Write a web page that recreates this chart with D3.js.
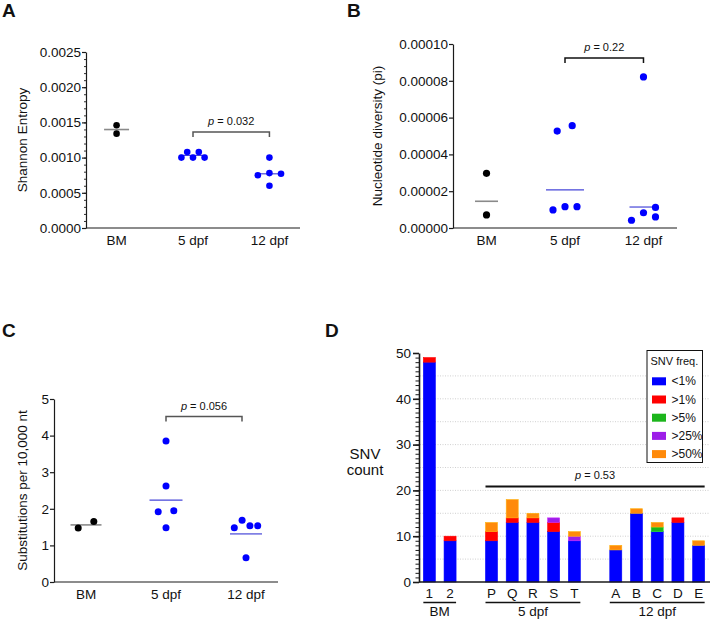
<!DOCTYPE html>
<html><head><meta charset="utf-8">
<script src="https://cdn.jsdelivr.net/npm/d3@7"></script>
<style>body{margin:0;background:#fff}svg{display:block;font-family:"Liberation Sans",Arial,sans-serif}</style>
</head><body><svg id="c" width="710" height="620"></svg>
<script>
// ---------- data ----------
const groups = ["BM", "5 dpf", "12 dpf"];

// Panel A: Shannon entropy
const shannonBM = [0.00146, 0.00134];
const shannon5dpf = [0.00100, 0.00108, 0.00100, 0.00108, 0.00100];
const shannon12dpf = [0.00075, 0.00100, 0.00078, 0.00060, 0.00077];
const shannonSwarm = [[0, 0], [-2, -1, 0, 1, 2], [-2, 0, 0, 0, 2]];
const shannonTicks = [0, 0.0005, 0.0010, 0.0015, 0.0020, 0.0025];
const shannonP = "0.032";

// Panel B: nucleotide diversity
const piBM = [0.0000297, 0.0000071];
const pi5dpf = [0.0000527, 0.0000556, 0.0000098, 0.0000116, 0.0000116];
const pi12dpf = [0.0000821, 0.0000042, 0.0000083, 0.0000060, 0.0000112];
const piSwarm = [[0, 0], [-1.3, 1.2, -2, 0, 2], [0, -2, 0, 2, 2]];
const piTicks = [0, 0.00002, 0.00004, 0.00006, 0.00008, 0.00010];
const piP = "0.22";

// Panel C: substitutions per 10,000 nt
const subsBM = [1.475, 1.65];
const subs5dpf = [3.85, 2.62, 1.92, 1.95, 1.48];
const subs12dpf = [1.48, 1.69, 1.54, 1.54, 0.66];
const subsSwarm = [[-1, 1], [0, 0, -1, 1, 0], [-1.5, -0.5, 0.5, 1.5, 0]];
const subsTicks = [0, 1, 2, 3, 4, 5];
const subsP = "0.056";

// Panel D: SNV counts
const snvSamples = ["1", "2", "P", "Q", "R", "S", "T", "A", "B", "C", "D", "E"];
const snvSampleGroup = ["BM", "BM", "5 dpf", "5 dpf", "5 dpf", "5 dpf", "5 dpf", "12 dpf", "12 dpf", "12 dpf", "12 dpf", "12 dpf"];
const freqClasses = ["<1%", ">1%", ">5%", ">25%", ">50%"];
const snvLt1 = [48, 9, 9, 13, 13, 11, 9, 7, 15, 11, 13, 8];
const snvGt1 = [1, 1, 2, 1, 1, 2, 0, 0, 0, 0, 1, 0];
const snvGt5 = [0, 0, 0, 0, 0, 0, 0, 0, 0, 1, 0, 0];
const snvGt25 = [0, 0, 0, 0, 0, 1, 1, 0, 0, 0, 0, 0];
const snvGt50 = [0, 0, 2, 4, 1, 0, 1, 1, 1, 1, 0, 1];
const snvTicks = [0, 10, 20, 30, 40, 50];
const snvP = "0.53";
const freqColors = ["#0000ff", "#ff0000", "#1cb51c", "#9d1ee8", "#ff8a0a"];

// ---------- drawing ----------
const svg = d3.select("#c");
const FONT = '"Liberation Sans", Arial, sans-serif';

function styleAxis(sel, fs) {
  sel.attr("font-family", FONT).attr("font-size", fs);
  sel.selectAll("path,line").attr("stroke", "#1a1a1a").attr("stroke-width", 1.2);
  sel.selectAll("text").attr("fill", "#111");
}

function pText(g, x, y, val, fs) {
  const t = g.append("text").attr("x", x).attr("y", y).attr("text-anchor", "middle")
    .attr("font-size", fs).attr("fill", "#111");
  t.append("tspan").attr("font-style", "italic").text("p");
  t.append("tspan").text(" = " + val);
}

function scatter(o) {
  const g = svg.append("g");
  const x = d3.scalePoint().domain(groups).range([o.x0, o.x1]).padding(o.pad);
  const y = d3.scaleLinear().domain([0, o.ticks[o.ticks.length - 1]]).range([o.y0, o.y1]);
  if (o.minor) {
    g.append("g").attr("transform", `translate(${o.x0},0)`)
      .call(d3.axisLeft(y).tickValues(o.minor).tickSize(2).tickSizeOuter(0).tickFormat(""))
      .call(s => { styleAxis(s, 13.5); s.select(".domain").remove(); s.selectAll("line").attr("stroke-width", 0.9); });
  }
  g.append("g").attr("transform", `translate(${o.x0},0)`)
    .call(d3.axisLeft(y).tickValues(o.ticks).tickSize(4).tickSizeOuter(0).tickPadding(1).tickFormat(d3.format(o.fmt)))
    .call(s => styleAxis(s, 13.5));
  g.append("line").attr("x1", o.x0).attr("x2", o.x1).attr("y1", o.y0).attr("y2", o.y0)
    .attr("stroke", "#1a1a1a").attr("stroke-width", 1.2);
  groups.forEach(k => g.append("text").attr("x", x(k)).attr("y", o.y0 + 17).attr("text-anchor", "middle")
    .attr("font-size", 13.5).attr("fill", "#111").text(k));
  g.append("text").attr("transform", `translate(${o.titleX},${(o.y0 + o.y1) / 2}) rotate(-90)`)
    .attr("text-anchor", "middle").attr("font-size", 13.5).attr("fill", "#111").text(o.title);
  o.series.forEach((vals, i) => {
    const cx = x(groups[i]);
    const gm = Math.exp(d3.mean(vals, Math.log));
    const hw = o.hw[i];
    g.append("line").attr("x1", cx - hw).attr("x2", cx + hw).attr("y1", y(gm)).attr("y2", y(gm))
      .attr("stroke", i === 0 ? "#8a8a8a" : "#4646d8").attr("stroke-width", i === 0 ? 1.6 : 1.2);
    g.selectAll(null).data(vals).enter().append("circle")
      .attr("cx", (v, j) => cx + o.swarm[i][j] * o.step).attr("cy", v => y(v)).attr("r", o.r)
      .attr("fill", i === 0 ? "#000" : "#0000ff");
  });
  const bx1 = x(groups[1]), bx2 = x(groups[2]) - (o.bShift || 0);
  g.append("path").attr("d", `M${bx1},${o.by + 5}V${o.by}H${bx2}V${o.by + 5}`)
    .attr("fill", "none").attr("stroke", o.bColor).attr("stroke-width", 1.5);
  pText(g, (bx1 + bx2) / 2, o.by - 7, o.p, 11);
}

// Panel A
scatter({
  x0: 86, x1: 300, pad: 0.4, y0: 228, y1: 52, ticks: shannonTicks, fmt: ".4f",
  minor: d3.range(0, 26).map(i => i * 0.0001),
  series: [shannonBM, shannon5dpf, shannon12dpf], swarm: shannonSwarm, step: 5.8, r: 3.3,
  hw: [12.5, 13, 12.5], title: "Shannon Entropy", titleX: 27, by: 132, bColor: "#555", p: shannonP
});
// Panel B
scatter({
  x0: 453, x1: 677, pad: 0.427, y0: 228, y1: 44, ticks: piTicks, fmt: ".5f",
  series: [piBM, pi5dpf, pi12dpf], swarm: piSwarm, step: 6, r: 3.6,
  hw: [11.5, 19, 14], title: "Nucleotide diversity (pi)", titleX: 382, by: 58, bColor: "#111", p: piP
});
// Panel C
scatter({
  x0: 54, x1: 278, pad: 0.4, y0: 582, y1: 399, ticks: subsTicks, fmt: "d",
  series: [subsBM, subs5dpf, subs12dpf], swarm: subsSwarm, step: 7.8, r: 3.5,
  hw: [15.5, 16.5, 16], title: "Substitutions per 10,000 nt", titleX: 27, by: 416.5, bColor: "#555", p: subsP, bShift: 4
});

// Panel D
(function () {
  const g = svg.append("g");
  const x0 = 419, x1 = 709, y0 = 582, y1 = 353;
  const groupNames = [...new Set(snvSampleGroup)];
  const domain = [];
  groupNames.forEach((gn, gi) => {
    if (gi > 0) domain.push("_gap" + gi);
    snvSamples.forEach((s, i) => { if (snvSampleGroup[i] === gn) domain.push(s); });
  });
  const x = d3.scaleBand().domain(domain).range([x0, x1]).paddingInner(0.42).paddingOuter(0.21);
  const y = d3.scaleLinear().domain([0, 50]).range([y0, y1]);

  // gridlines
  g.selectAll(null).data(d3.range(5, 50, 5)).enter().append("line")
    .attr("x1", x0 + 1).attr("x2", 710).attr("y1", d => y(d)).attr("y2", d => y(d))
    .attr("stroke", "#c4c4c4").attr("stroke-width", 0.8).attr("stroke-dasharray", "1,1.5");

  const rows = snvSamples.map((s, i) => ({
    sample: s, "<1%": snvLt1[i], ">1%": snvGt1[i], ">5%": snvGt5[i], ">25%": snvGt25[i], ">50%": snvGt50[i]
  }));
  const stacked = d3.stack().keys(freqClasses)(rows);
  stacked.forEach((layer, li) => {
    g.selectAll(null).data(layer.filter(d => d[1] > d[0])).enter().append("rect")
      .attr("x", d => x(d.data.sample)).attr("width", x.bandwidth())
      .attr("y", d => y(d[1])).attr("height", d => y(d[0]) - y(d[1]))
      .attr("fill", freqColors[li])
      .attr("stroke", d3.color(freqColors[li]).brighter(0.7)).attr("stroke-width", 0.6);
  });

  // axes
  g.append("g").attr("transform", `translate(${x0},0)`)
    .call(d3.axisLeft(y).tickValues(d3.range(0, 51)).tickSize(3.5).tickSizeOuter(0).tickFormat(""))
    .call(s => { styleAxis(s, 13.5); s.select(".domain").remove(); s.selectAll("line").attr("stroke-width", 1); });
  g.append("g").attr("transform", `translate(${x0},0)`)
    .call(d3.axisLeft(y).tickValues(snvTicks).tickSize(6).tickSizeOuter(0).tickPadding(2).tickFormat(d3.format("d")))
    .call(s => { styleAxis(s, 13.5); s.selectAll("path,line").attr("stroke-width", 1.6); });
  g.append("line").attr("x1", x0).attr("x2", 710).attr("y1", y0).attr("y2", y0)
    .attr("stroke", "#1a1a1a").attr("stroke-width", 1.6);

  // sample labels
  g.selectAll(null).data(snvSamples).enter().append("text")
    .attr("x", d => x(d) + x.bandwidth() / 2).attr("y", 598).attr("text-anchor", "middle")
    .attr("font-size", 13.5).attr("fill", "#111").text(d => d);
  // group underlines + labels
  groupNames.forEach(gn => {
    const members = snvSamples.filter((s, i) => snvSampleGroup[i] === gn);
    const a = x(members[0]), b = x(members[members.length - 1]) + x.bandwidth();
    g.append("line").attr("x1", a).attr("x2", b).attr("y1", 602.5).attr("y2", 602.5)
      .attr("stroke", "#111").attr("stroke-width", 1.3);
    g.append("text").attr("x", (a + b) / 2).attr("y", 615.5).attr("text-anchor", "middle")
      .attr("font-size", 13.5).attr("fill", "#111").text(gn);
  });

  // y title
  const yt = g.append("text").attr("text-anchor", "middle").attr("font-size", 15).attr("fill", "#111");
  yt.append("tspan").attr("x", 365).attr("y", 459).text("SNV");
  yt.append("tspan").attr("x", 365).attr("y", 475).text("count");

  // p line
  const pa = x("P"), pb = x("E") + x.bandwidth();
  g.append("line").attr("x1", pa).attr("x2", pb).attr("y1", 486.5).attr("y2", 486.5)
    .attr("stroke", "#111").attr("stroke-width", 2);
  pText(g, (pa + pb) / 2, 479, snvP, 11);

  // legend
  const lg = g.append("g");
  lg.append("rect").attr("x", 647).attr("y", 350.5).attr("width", 55.5).attr("height", 112)
    .attr("fill", "#fff").attr("stroke", "#111").attr("stroke-width", 1);
  lg.append("text").attr("x", 650.5).attr("y", 365).attr("font-size", 11).attr("fill", "#111").text("SNV freq.");
  freqClasses.forEach((c, i) => {
    const cy = 381.3 + i * 18.2;
    lg.append("rect").attr("x", 652).attr("y", cy - 4).attr("width", 14).attr("height", 8).attr("fill", freqColors[i]);
    lg.append("text").attr("x", 671.5).attr("y", cy + 4).attr("font-size", 12).attr("fill", "#111").text(c);
  });
})();

// panel letters
[["A", 2, 17], ["B", 347, 17], ["C", 2, 337], ["D", 325, 337]].forEach(([t, px, py]) =>
  svg.append("text").attr("x", px).attr("y", py).attr("font-size", 19).attr("font-weight", "bold")
    .attr("fill", "#111").text(t));
</script>
</body></html>
